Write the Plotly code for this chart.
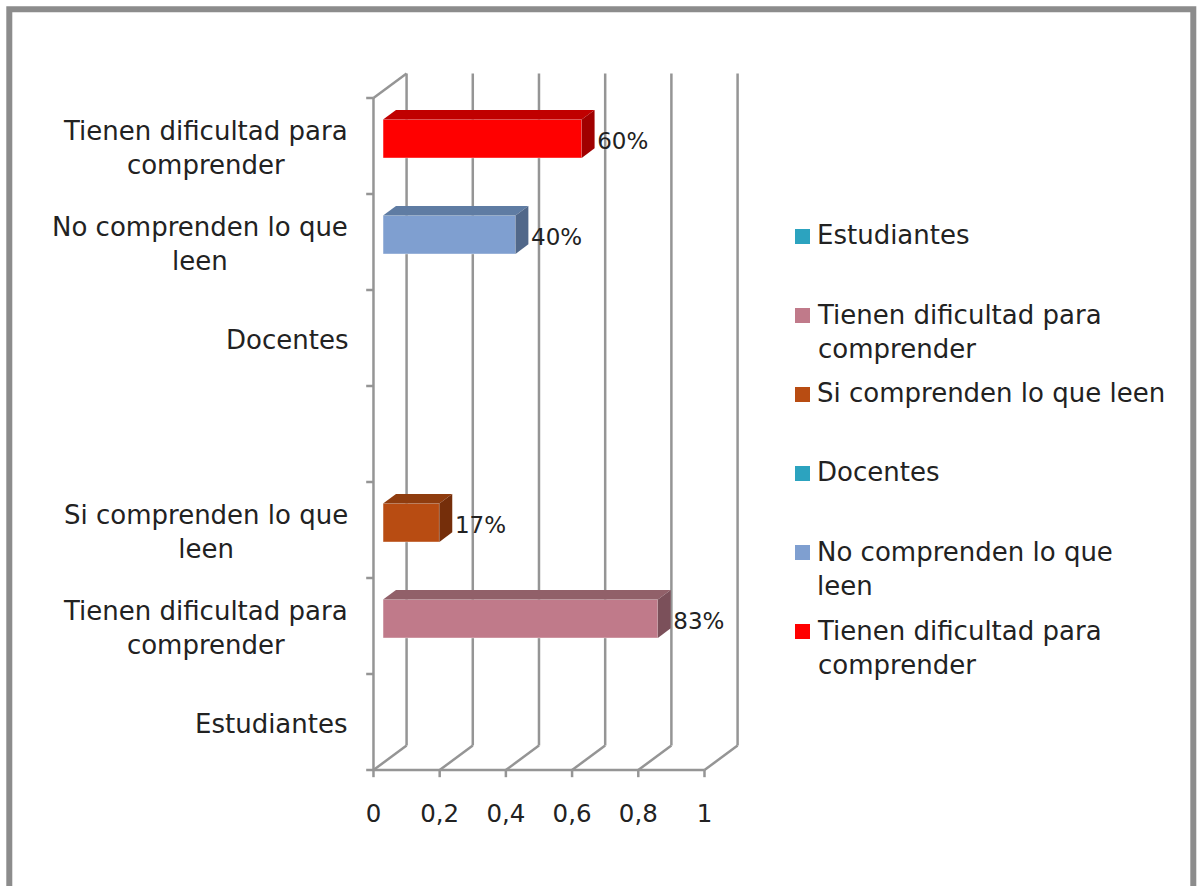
import plotly.graph_objects as go

# categories from the bottom up, blank one is the gap between the two groups
categories = ["Estudiantes", "Tienen dificultad para<br>comprender", "Si comprenden lo que<br>leen", "",
              "Docentes", "No comprenden lo que<br>leen", "Tienen dificultad para<br>comprender"]
bar_rows = [1, 2, 5, 6]
bar_values = [0.83, 0.17, 0.40, 0.60]
bar_labels = ["83%", "17%", "40%", "60%"]
bar_front = ["#C07A8A", "#B84C12", "#7F9FD0", "#FF0000"]
bar_top = ["#916069", "#8F3C0E", "#5F7CA3", "#C00000"]
bar_side = ["#7B505A", "#752E0A", "#51688A", "#A00000"]

x_ticks = [0, 0.2, 0.4, 0.6, 0.8, 1]
x_tick_text = ["0", "0,2", "0,4", "0,6", "0,8", "1"]

legend_labels = ["Estudiantes", "Tienen dificultad para<br>comprender", "Si comprenden lo que leen",
                 "Docentes", "No comprenden lo que<br>leen", "Tienen dificultad para<br>comprender"]
legend_colors = ["#2CA3BF", "#C07A8A", "#B84C12", "#2CA3BF", "#7F9FD0", "#FF0000"]
legend_rows_y = [237, 316, 395, 474, 553, 632]

W, H = 1197, 886
TEXT_COLOR = "#222222"
LABEL_FONT = dict(family="DejaVu Sans", size=26, color=TEXT_COLOR)
TICK_FONT = dict(family="DejaVu Sans", size=24.5, color=TEXT_COLOR)
VALUE_FONT = dict(family="DejaVu Sans", size=23, color=TEXT_COLOR)
GREY = "#959595"

# fake 3D: wall depth and bar depth in axis units
WALL_DX, WALL_DY = 0.1, 0.255
BAR_X0 = 0.029
BAR_DX, BAR_DY = 0.039, 0.1
BAR_H = 0.4
BAR_UP = 0.076
TICK_DX, TICK_DY = 0.022, 0.075

fig = go.Figure()
shapes = []


def grid_line(x0, y0, x1, y1):
    shapes.append(dict(type="line", xref="x", yref="y", x0=x0, y0=y0, x1=x1, y1=y1,
                       layer="below", line=dict(color=GREY, width=2.5)))


y_low, y_high = -0.5, len(categories) - 0.5

# floor, walls and gridlines
grid_line(0, y_low, 1, y_low)
grid_line(0, y_low, 0, y_high)
grid_line(0, y_high, WALL_DX, y_high + WALL_DY)
for t in x_ticks:
    grid_line(t, y_low, t + WALL_DX, y_low + WALL_DY)
    grid_line(t + WALL_DX, y_low + WALL_DY, t + WALL_DX, y_high + WALL_DY)
    grid_line(t, y_low, t, y_low - TICK_DY)
for i in range(len(categories) + 1):
    grid_line(0, y_low + i, -TICK_DX, y_low + i)

for row, val, label, front, top, side in zip(bar_rows, bar_values, bar_labels, bar_front, bar_top, bar_side):
    y0 = row + BAR_UP - BAR_H / 2
    y1 = row + BAR_UP + BAR_H / 2
    x1 = BAR_X0 + val
    fig.add_trace(go.Bar(
        y=[y0], x=[val], base=BAR_X0, width=[BAR_H], offset=0, orientation="h",
        marker=dict(color=front, line=dict(color="rgba(255,255,255,0.35)", width=1)),
        showlegend=False, hoverinfo="skip",
    ))
    fig.add_trace(go.Scatter(
        x=[BAR_X0, x1, x1 + BAR_DX, BAR_X0 + BAR_DX, BAR_X0],
        y=[y1, y1, y1 + BAR_DY, y1 + BAR_DY, y1],
        mode="lines", fill="toself", fillcolor=top, line=dict(width=0),
        showlegend=False, hoverinfo="skip",
    ))
    fig.add_trace(go.Scatter(
        x=[x1, x1 + BAR_DX, x1 + BAR_DX, x1, x1],
        y=[y1, y1 + BAR_DY, y0 + BAR_DY, y0, y1],
        mode="lines", fill="toself", fillcolor=side, line=dict(width=0),
        showlegend=False, hoverinfo="skip",
    ))
    fig.add_trace(go.Scatter(
        x=[x1 + BAR_DX + 0.008], y=[row + 0.03], mode="text", text=[label], textposition="middle right",
        textfont=VALUE_FONT,
        showlegend=False, hoverinfo="skip",
    ))

annotations = []
for i, cat in enumerate(categories):
    if cat:
        annotations.append(dict(
            xref="paper", yref="y", x=350 / W, y=i, text=cat, xanchor="right", yanchor="middle",
            align="center", showarrow=False, yshift=-2,
            font=LABEL_FONT,
        ))

# legend has fixed row spacing and the swatch sits on the first line
for label, color, py in zip(legend_labels, legend_colors, legend_rows_y):
    shapes.append(dict(type="rect", xref="paper", yref="paper", x0=795 / W, x1=810 / W,
                       y0=1 - (py + 7) / H, y1=1 - (py - 8) / H, fillcolor=color, line=dict(width=0)))
    annotations.append(dict(
        xref="paper", yref="paper", x=815 / W, y=1 - (py - 18.5) / H, text=label,
        xanchor="left", yanchor="top", align="left", showarrow=False,
        font=LABEL_FONT,
    ))

# outer frame, runs off the bottom of the picture
shapes.append(dict(type="rect", xref="paper", yref="paper", x0=9.3 / W, x1=1193.3 / W,
                   y0=-0.05, y1=1 - 9.3 / H, line=dict(color="#8C8C8C", width=6)))

fig.update_layout(
    width=W, height=H,
    margin=dict(l=0, r=0, t=0, b=0),
    paper_bgcolor="white", plot_bgcolor="white",
    barmode="overlay",
    showlegend=False,
    shapes=shapes,
    annotations=annotations,
    # ranges run a bit past the walls so the edge lines and ticks do not get clipped
    xaxis=dict(
        domain=[365.2 / W, 740.9 / W], range=[-0.025, 1 + WALL_DX + 0.01],
        tickvals=x_ticks, ticktext=x_tick_text,
        ticks="", ticklabelstandoff=19,
        tickfont=TICK_FONT, automargin=False,
        showgrid=False, zeroline=False, showline=False, fixedrange=True,
    ),
    yaxis=dict(
        domain=[1 - 777.7 / H, 1 - 71.6 / H], range=[y_low - 0.08, y_high + WALL_DY + 0.02],
        showticklabels=False, ticks="", automargin=False,
        showgrid=False, zeroline=False, showline=False, fixedrange=True,
    ),
)

# the page's default body margin would push everything 8px off
fig.write_html("out.html", config=dict(displayModeBar=False),
               post_script="document.body.style.margin='0';document.body.style.overflow='hidden';")
